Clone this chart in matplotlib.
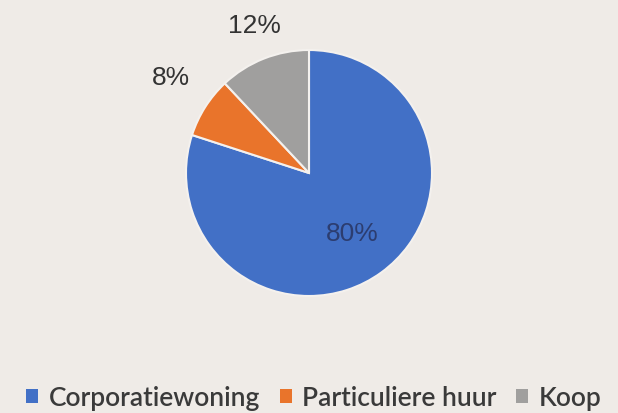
import matplotlib
matplotlib.use("Agg")
import matplotlib.pyplot as plt
import numpy as np

categories = ["Corporatiewoning", "Particuliere huur", "Koop"]
values = [80, 8, 12]
colors = ["#4270c6", "#e9742b", "#a09f9e"]
label_dist = [0.60, 1.36, 1.30]
bg = "#efebe7"

fig = plt.figure(figsize=(6.18, 4.14), dpi=100, facecolor=bg)
cx, cy, r = 309, 174, 123
ax = fig.add_axes([(cx - r) / 618, (414 - cy - r) / 414, 2 * r / 618, 2 * r / 414])
ax.set_facecolor(bg)
wedges, texts, autotexts = ax.pie(values, colors=colors, startangle=90, counterclock=False,
                                  autopct=lambda p: f"{p:.0f}%", radius=1.0,
                                  wedgeprops=dict(edgecolor="#f4f1ee", linewidth=1.5),
                                  textprops=dict(fontsize=19, family="Liberation Sans", color="#333333"))
for w, t, d in zip(wedges, autotexts, label_dist):
    ang = np.deg2rad((w.theta1 + w.theta2) / 2)
    t.set_position((d * np.cos(ang), d * np.sin(ang)))
autotexts[0].set_color("#2c3d70")
autotexts[2].set_position((-0.44, 1.20))
autotexts[1].set_position((-1.12, 0.78))
ax.set_xlim(-1, 1)
ax.set_ylim(-1, 1)
ax.axis("off")

leg = fig.legend(wedges, categories, loc="center", bbox_to_anchor=(0.508, 1 - 399 / 414), ncol=3,
                 frameon=False, prop=dict(family="Lato", size=19, weight="semibold"),
                 handlelength=0.45, handleheight=0.45,
                 handletextpad=0.4, columnspacing=0.75, labelcolor="#3a3a3a")
for h in leg.legend_handles:
    h.set_edgecolor("none")
fig.savefig("out.png", dpi=100, facecolor=bg)
